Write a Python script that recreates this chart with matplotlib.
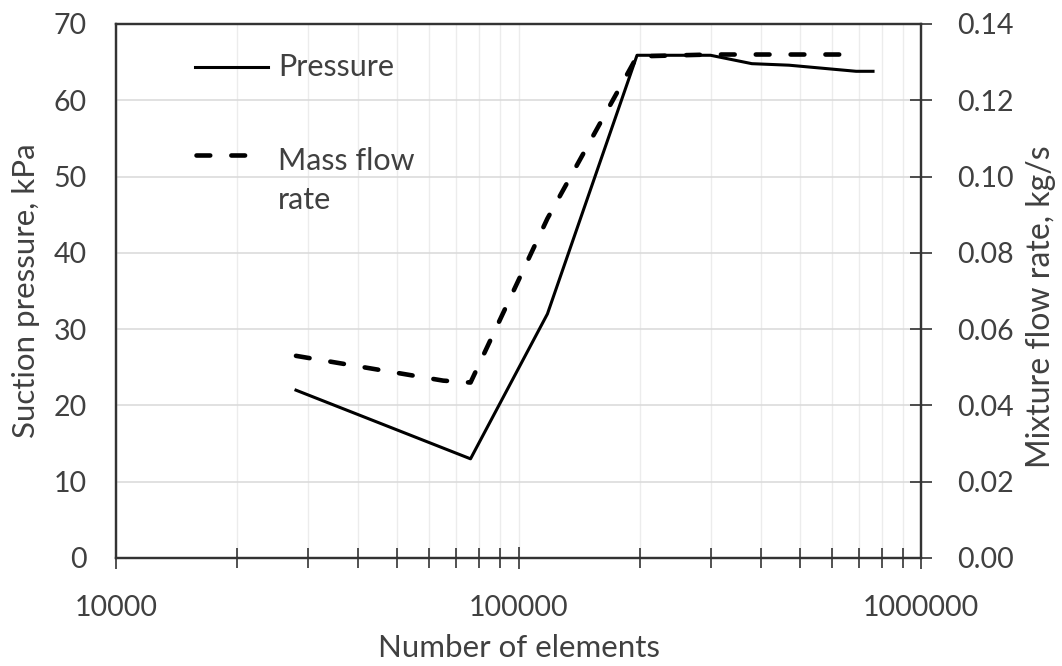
import matplotlib
matplotlib.use("Agg")
import matplotlib.pyplot as plt
from matplotlib.lines import Line2D
from matplotlib.ticker import LogLocator, FixedLocator, NullFormatter, FuncFormatter

plt.rcParams['font.family'] = ['Lato', 'DejaVu Sans']

# Data
pressure_elements = [28000, 76000, 118000, 197000, 300000, 380000, 470000, 690000, 760000]
pressure_kpa = [22.0, 13.0, 32.0, 65.9, 65.9, 64.8, 64.6, 63.8, 63.8]

flow_elements = [28000, 65000, 76000, 118000, 197000, 300000, 700000]
flow_kgs = [0.053, 0.0465, 0.046, 0.089, 0.1315, 0.132, 0.132]

left_ticks = [0, 10, 20, 30, 40, 50, 60, 70]
right_ticks = [0.00, 0.02, 0.04, 0.06, 0.08, 0.10, 0.12, 0.14]
x_major = [10000, 100000, 1000000]
legend_labels = ['Pressure', 'Mass flow\nrate']

text_color = '#404040'
spine_color = '#333333'
grid_color = '#d9d9d9'
fs_tick = 20.5
fs_label = 22.5
fs_leg = 22

fig = plt.figure(figsize=(10.62, 6.66), dpi=100)
ax = fig.add_axes([116/1062, 1 - 558/666, (921 - 116)/1062, (558 - 24)/666])
ax2 = ax.twinx()

ax.set_xscale('log')
ax.set_xlim(10000, 1000000)
ax.set_ylim(0, 70)
ax2.set_ylim(0, 0.14)

ax.xaxis.set_major_locator(FixedLocator(x_major))
ax.xaxis.set_major_formatter(FuncFormatter(lambda v, p: f"{int(round(v))}"))
ax.xaxis.set_minor_locator(LogLocator(base=10, subs=range(2, 10)))
ax.xaxis.set_minor_formatter(NullFormatter())
ax.set_yticks(left_ticks)
ax2.set_yticks(right_ticks)
ax2.set_yticklabels([f"{t:.2f}" for t in right_ticks])

ax.grid(True, which='major', axis='y', color=grid_color, lw=1.1)
ax.grid(True, which='both', axis='x', color='#ececec', lw=1.0)
ax.set_axisbelow(True)

# Lines
solid_lw = 2.2
dash_lw = 3.3
dash_pat = (3, 4.6)
ax.plot(pressure_elements, pressure_kpa, color='black', lw=solid_lw,
        solid_joinstyle='round', zorder=3)
ax2.plot(flow_elements, flow_kgs, color='black', lw=dash_lw,
         dashes=dash_pat, dash_capstyle='round', zorder=3)

for a in (ax, ax2):
    for s in a.spines.values():
        s.set_color(spine_color)
        s.set_linewidth(1.6)

ax.tick_params(axis='y', which='both', length=0, pad=21, labelsize=fs_tick, labelcolor=text_color)
ax.tick_params(axis='x', which='major', direction='inout', length=16, width=1.2,
               color=spine_color, pad=19, labelsize=fs_tick, labelcolor=text_color)
ax.tick_params(axis='x', which='minor', direction='inout', length=14, width=1.2,
               color=spine_color)
ax2.tick_params(axis='y', direction='inout', length=16, width=1.2, color=spine_color,
                pad=18, labelsize=fs_tick, labelcolor=text_color)

ax.set_xlabel('Number of elements', fontsize=fs_label, color=text_color, labelpad=9)
ax.set_ylabel('Suction pressure, kPa', fontsize=fs_label, color=text_color, labelpad=10)
ax2.set_ylabel('Mixture flow rate, kg/s', fontsize=23, color=text_color)
ax2.yaxis.set_label_coords(1.131, 0.47)

# Legend (drawn manually to mimic the original layout)
ax.add_line(Line2D([0.098, 0.189], [0.919, 0.919], transform=ax.transAxes,
                   color='black', lw=solid_lw, zorder=4))
ax.add_line(Line2D([0.099, 0.162], [0.755, 0.755], transform=ax.transAxes,
                   color='black', lw=dash_lw, dashes=dash_pat, dash_capstyle='round', zorder=4))
ax.text(0.201, 0.919, legend_labels[0], transform=ax.transAxes, fontsize=fs_leg,
        color=text_color, va='center', ha='left')
ax.text(0.201, 0.770, legend_labels[1], transform=ax.transAxes, fontsize=fs_leg,
        color=text_color, va='top', ha='left', linespacing=1.5)

fig.savefig('out.png', dpi=100)
